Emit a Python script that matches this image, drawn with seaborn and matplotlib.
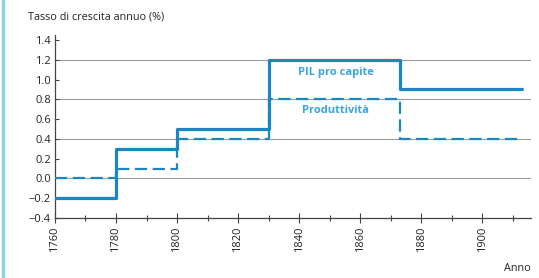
import numpy as np
import pandas as pd
import seaborn as sns
import matplotlib.pyplot as plt
from matplotlib.ticker import MultipleLocator
from matplotlib.lines import Line2D

# step change points (year where each rate starts), last entry = end of series
years = [1760, 1780, 1800, 1830, 1873, 1913]
pil_pro_capite = [-0.2, 0.3, 0.5, 1.2, 0.9, 0.9]
produttivita = [0.0, 0.1, 0.4, 0.8, 0.4, 0.4]
yticks = [-0.4, -0.2, 0.0, 0.2, 0.4, 0.6, 0.8, 1.0, 1.2, 1.4]
grid_levels = [1.2, 0.8, 0.4, 0.0]

df = pd.DataFrame({"Anno": years, "PIL pro capite": pil_pro_capite, "Produttività": produttivita})

sns.set_style("white")
plt.rcParams["font.family"] = ["Open Sans", "DejaVu Sans"]

fig = plt.figure(figsize=(5.39, 2.78), dpi=100)
ax = fig.add_axes([0.102, 0.216, 0.883, 0.658])

line_col = "#1a86c2"
text_col = "#3aa4dc"

for g in grid_levels:
    ax.axhline(g, color="#9a9a9a", lw=0.8, zorder=0)

sns.lineplot(data=df, x="Anno", y="PIL pro capite", ax=ax, drawstyle="steps-post",
             color=line_col, lw=2.3, zorder=3)
sns.lineplot(data=df, x="Anno", y="Produttività", ax=ax, drawstyle="steps-post",
             color=line_col, lw=1.6, dashes=(5.5, 2.5), zorder=3)

ax.text(1852, 1.07, "PIL pro capite", color=text_col, fontsize=8, fontweight="bold", ha="center", va="center")
ax.text(1852, 0.69, "Produttività", color=text_col, fontsize=8, fontweight="bold", ha="center", va="center")

ax.set_xlim(1760, 1916)
ax.set_ylim(-0.4, 1.45)
ax.set_yticks(yticks)
ax.set_yticklabels([f"{v:.1f}".replace("-", "\u2212") for v in yticks])
ax.set_xticks(range(1760, 1901, 20))
ax.xaxis.set_minor_locator(MultipleLocator(10))
ax.tick_params(axis="x", which="major", direction="inout", length=7, width=0.8, color="#444444",
               labelsize=8, labelrotation=90, labelcolor="#222222", pad=3, bottom=True)
ax.tick_params(axis="x", which="minor", direction="inout", length=5, width=0.8, color="#444444", bottom=True)
ax.tick_params(axis="y", direction="in", length=3, width=0.8, color="#444444",
               labelsize=8, labelcolor="#222222", pad=3, left=True)

for s in ["top", "right"]:
    ax.spines[s].set_visible(False)
for s in ["left", "bottom"]:
    ax.spines[s].set_color("#444444")
    ax.spines[s].set_linewidth(0.9)

ax.set_xlabel("")
ax.set_ylabel("")
fig.text(0.052, 0.94, "Tasso di crescita annuo (%)", fontsize=7.8, color="#222222", ha="left", va="center")
fig.text(0.985, 0.035, "Anno", fontsize=7.8, color="#222222", ha="right", va="center")

# light blue frame on the left edge
fig.add_artist(Line2D([0.005, 0.005], [0, 1], transform=fig.transFigure, color="#8fd0ee", lw=2.5))

fig.savefig("out.png", dpi=100)
